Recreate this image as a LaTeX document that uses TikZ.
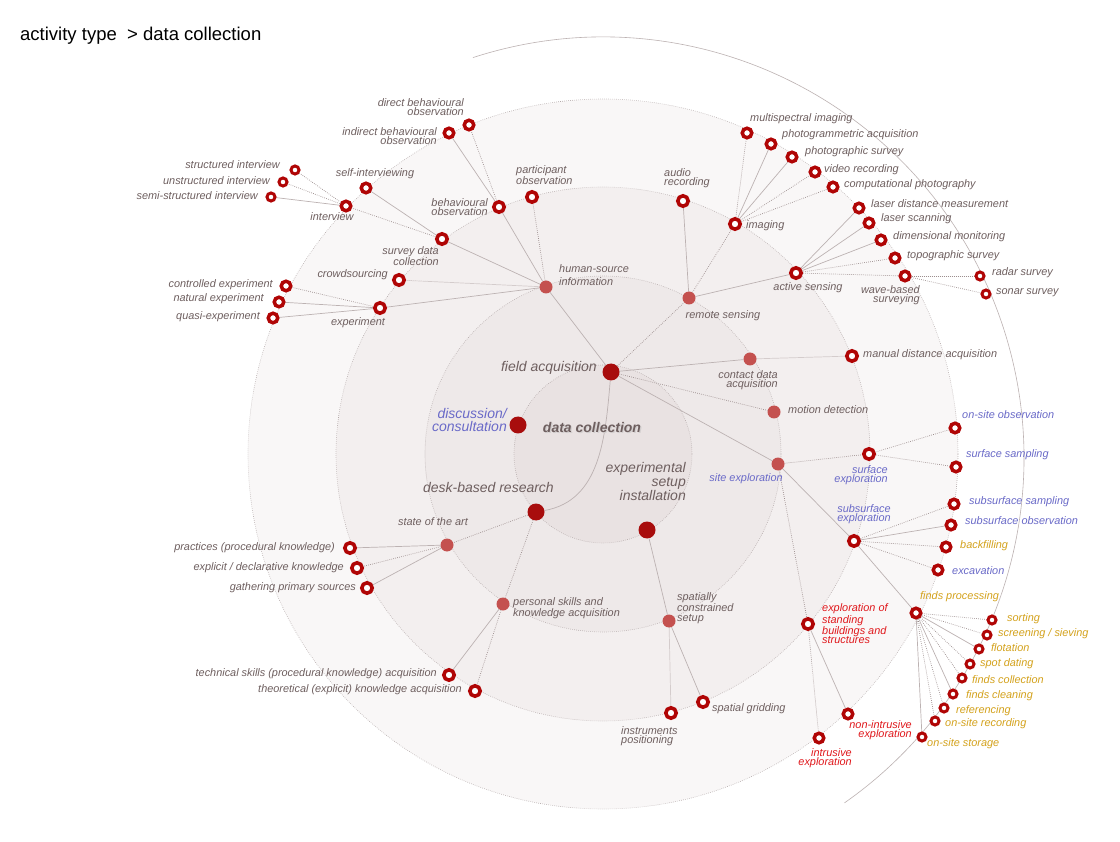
\documentclass[tikz,border=0pt]{standalone}
\usepackage{fontspec}
\setmainfont{Liberation Sans}
\usetikzlibrary{backgrounds}

\definecolor{txtgrey}{HTML}{6E5F5F}
\definecolor{txtblue}{HTML}{6A6AC8}
\definecolor{txtgold}{HTML}{D4A21C}
\definecolor{txtred}{HTML}{E0181C}
\definecolor{lvlone}{HTML}{A80D0D}
\definecolor{lvltwo}{HTML}{C4514F}
\definecolor{ringred}{HTML}{B00505}
\definecolor{linkgrey}{HTML}{BCB2B2}
\definecolor{dotgrey}{HTML}{9C8E8E}
\definecolor{ringgrey}{HTML}{B3A9A9}
\definecolor{diska}{HTML}{E9E2E2}
\definecolor{diskb}{HTML}{EEE9E9}
\definecolor{diskc}{HTML}{F3EFEF}
\definecolor{diskd}{HTML}{F9F7F7}

\tikzset{
  topnode/.style={circle, fill=lvlone, minimum size=17pt, inner sep=0},
  midnode/.style={circle, fill=lvltwo, minimum size=13pt, inner sep=0},
  ringnode/.style={circle, draw=ringred, fill=white, line width=3.6pt, minimum size=10.4pt, inner sep=0},
  leafnode/.style={ringnode, line width=3.5pt, minimum size=9.5pt},
  tipnode/.style={ringnode, line width=3pt, minimum size=8pt},
  lbl/.style={font=\fontsize{10.9}{9.6}\selectfont\itshape, text=txtgrey, inner sep=0},
  biglbl/.style={font=\fontsize{14}{14}\selectfont\itshape, text=txtgrey, inner sep=0},
  solidlink/.style={draw=linkgrey, line width=0.7pt},
  dotlink/.style={draw=dotgrey, line width=0.7pt, dash pattern=on 0.7pt off 1.3pt},
  ringline/.style={draw=ringgrey, line width=0.6pt, dash pattern=on 0.6pt off 1.4pt},
}

\begin{document}
\begin{tikzpicture}[x=1pt,y=-1pt]
\useasboundingbox (0,0) rectangle (1120,842);

% rings
\coordinate (C) at (603,454);
\coordinate (Ct) at (603,458);
\begin{scope}[on background layer]
\fill[white] (0,0) rectangle (1120,842);
\fill[diskd] (C) circle[radius=355pt];
\fill[diskc] (C) circle[radius=267pt];
\fill[diskb] (C) circle[radius=178pt];
\fill[diska] (C) circle[radius=89pt];
\draw[ringline] (C) circle[radius=355pt];
\draw[ringline] (C) circle[radius=267pt];
\draw[ringline] (C) circle[radius=178pt];
\draw[ringline] (C) circle[radius=89pt];
\draw[linkgrey, line width=0.6pt] (Ct) ++(108:421pt) arc[start angle=108, end angle=-55, radius=421pt];
\end{scope}

\node[anchor=base west, font=\fontsize{18.5}{20}\selectfont, inner sep=0] (title) at (20,41) {activity type \ > data collection};

% level 1
\node[topnode] (fieldacq) at (611,372) {};
\node[topnode] (discussion) at (518,425) {};
\node[topnode] (deskbased) at (536,512) {};
\node[topnode] (expsetup) at (647,530) {};

% level 2
\node[midnode] (humansource) at (546,287) {};
\node[midnode] (remotesensing) at (689,298) {};
\node[midnode] (contactdata) at (750,359) {};
\node[midnode] (motiondet) at (774,412) {};
\node[midnode] (siteexpl) at (778,464) {};
\node[midnode] (stateart) at (447,545) {};
\node[midnode] (personal) at (503,604) {};
\node[midnode] (spatially) at (669,621) {};

% level 3
\node[ringnode] (survey) at (442,239) {};
\node[ringnode] (behavioural) at (499,207) {};
\node[ringnode] (participant) at (532,197) {};
\node[ringnode] (crowd) at (399,280) {};
\node[ringnode] (experiment) at (380,308) {};
\node[ringnode] (audio) at (683,201) {};
\node[ringnode] (imaging) at (735,224) {};
\node[ringnode] (activesens) at (796,273) {};
\node[ringnode] (manualdist) at (852,356) {};
\node[ringnode] (surfexpl) at (869,454) {};
\node[ringnode] (subsurfexpl) at (854,541) {};
\node[ringnode] (standing) at (808,624) {};
\node[ringnode] (practices) at (350,548) {};
\node[ringnode] (explicit) at (357,568) {};
\node[ringnode] (gathering) at (367,588) {};
\node[ringnode] (technical) at (449,675) {};
\node[ringnode] (theoretical) at (475,691) {};
\node[ringnode] (instruments) at (671,713) {};
\node[ringnode] (gridding) at (703,702) {};

% level 4
\node[leafnode] (interview) at (346,206) {};
\node[leafnode] (selfint) at (366,188) {};
\node[leafnode] (indirect) at (449,133) {};
\node[leafnode] (direct) at (469,125) {};
\node[leafnode] (controlled) at (286,286) {};
\node[leafnode] (natural) at (279,302) {};
\node[leafnode] (quasi) at (273,318) {};
\node[leafnode] (multispec) at (747,133) {};
\node[leafnode] (photogram) at (771,144) {};
\node[leafnode] (photosurvey) at (792,157) {};
\node[leafnode] (video) at (815,172) {};
\node[leafnode] (computational) at (833,187) {};
\node[leafnode] (laserdist) at (859,208) {};
\node[leafnode] (laserscan) at (869,223) {};
\node[leafnode] (dimensional) at (881,240) {};
\node[leafnode] (topographic) at (895,258) {};
\node[leafnode] (wavebased) at (905,276) {};
\node[leafnode] (onsiteobs) at (955,428) {};
\node[leafnode] (surfsampling) at (956,467) {};
\node[leafnode] (subsampling) at (954,504) {};
\node[leafnode] (subobs) at (951,525) {};
\node[leafnode] (backfilling) at (946,547) {};
\node[leafnode] (excavation) at (938,570) {};
\node[leafnode] (findsproc) at (916,613) {};
\node[leafnode] (nonintrusive) at (848,714) {};
\node[leafnode] (intrusive) at (819,738) {};

% level 5
\node[tipnode] (structured) at (295,170) {};
\node[tipnode] (unstructured) at (283,182) {};
\node[tipnode] (semistructured) at (271,197) {};
\node[tipnode] (radar) at (980,276) {};
\node[tipnode] (sonar) at (986,294) {};
\node[tipnode] (sorting) at (992,620) {};
\node[tipnode] (screening) at (987,635) {};
\node[tipnode] (flotation) at (979,649) {};
\node[tipnode] (spotdating) at (970,664) {};
\node[tipnode] (findscoll) at (962,678) {};
\node[tipnode] (findsclean) at (953,694) {};
\node[tipnode] (referencing) at (944,708) {};
\node[tipnode] (onsiterec) at (935,721) {};
\node[tipnode] (onsitestore) at (922,737) {};

% links
\begin{scope}[on background layer]
\draw[solidlink] (fieldacq) to[out=-95, in=10] (deskbased);
\draw[solidlink] (fieldacq)--(humansource);
\draw[dotlink] (fieldacq)--(remotesensing);
\draw[solidlink] (fieldacq)--(contactdata);
\draw[dotlink] (fieldacq)--(motiondet);
\draw[solidlink] (fieldacq)--(siteexpl);
\draw[dotlink] (deskbased)--(stateart);
\draw[dotlink] (deskbased)--(personal);
\draw[solidlink] (expsetup)--(spatially);

\draw[solidlink] (humansource)--(survey);
\draw[solidlink] (humansource)--(behavioural);
\draw[dotlink] (humansource)--(participant);
\draw[dotlink] (humansource)--(crowd);
\draw[solidlink] (humansource)--(experiment);
\draw[dotlink] (survey)--(interview);
\draw[solidlink] (survey)--(selfint);
\draw[dotlink] (interview)--(structured);
\draw[dotlink] (interview)--(unstructured);
\draw[solidlink] (interview)--(semistructured);
\draw[solidlink] (behavioural)--(indirect);
\draw[dotlink] (behavioural)--(direct);
\draw[dotlink] (experiment)--(controlled);
\draw[solidlink] (experiment)--(natural);
\draw[solidlink] (experiment)--(quasi);

\draw[solidlink] (remotesensing)--(audio);
\draw[dotlink] (remotesensing)--(imaging);
\draw[solidlink] (remotesensing)--(activesens);
\draw[dotlink] (imaging)--(multispec);
\draw[solidlink] (imaging)--(photogram);
\draw[solidlink] (imaging)--(photosurvey);
\draw[dotlink] (imaging)--(video);
\draw[dotlink] (imaging)--(computational);
\draw[solidlink] (activesens)--(laserdist);
\draw[solidlink] (activesens)--(laserscan);
\draw[solidlink] (activesens)--(dimensional);
\draw[dotlink] (activesens)--(topographic);
\draw[dotlink] (activesens)--(wavebased);
\draw[dotlink] (wavebased)--(radar);
\draw[dotlink] (wavebased)--(sonar);
\draw[dotlink] (contactdata)--(manualdist);

\draw[dotlink] (siteexpl)--(surfexpl);
\draw[solidlink] (siteexpl)--(subsurfexpl);
\draw[dotlink] (siteexpl)--(standing);
\draw[dotlink] (surfexpl)--(onsiteobs);
\draw[dotlink] (surfexpl)--(surfsampling);
\draw[dotlink] (subsurfexpl)--(subsampling);
\draw[solidlink] (subsurfexpl)--(subobs);
\draw[dotlink] (subsurfexpl)--(backfilling);
\draw[dotlink] (subsurfexpl)--(excavation);
\draw[solidlink] (subsurfexpl)--(findsproc);
\draw[dotlink] (findsproc)--(sorting);
\draw[dotlink] (findsproc)--(screening);
\draw[solidlink] (findsproc)--(flotation);
\draw[dotlink] (findsproc)--(spotdating);
\draw[dotlink] (findsproc)--(findscoll);
\draw[solidlink] (findsproc)--(findsclean);
\draw[dotlink] (findsproc)--(referencing);
\draw[dotlink] (findsproc)--(onsiterec);
\draw[solidlink] (findsproc)--(onsitestore);
\draw[dotlink] (standing)--(intrusive);
\draw[solidlink] (standing)--(nonintrusive);

\draw[solidlink] (stateart)--(practices);
\draw[dotlink] (stateart)--(explicit);
\draw[solidlink] (stateart)--(gathering);
\draw[solidlink] (personal)--(technical);
\draw[dotlink] (personal)--(theoretical);
\draw[dotlink] (spatially)--(instruments);
\draw[solidlink] (spatially)--(gridding);
\end{scope}

% labels, level 1
\node[biglbl, anchor=east] (t-fieldacq) at (597,368) {field acquisition};
\node[biglbl, text=txtblue, anchor=east, align=right, font=\fontsize{14}{13}\selectfont\itshape] (t-discussion) at (507,420) {discussion/\\consultation};
\node[biglbl, anchor=east] (t-deskbased) at (554,487) {desk-based research};
\node[biglbl, anchor=east, align=right] (t-expsetup) at (686,481) {experimental\\setup\\installation};
\node[biglbl, text=white!70!txtgrey, font=\fontsize{14}{14}\selectfont\bfseries\itshape] (t-shadow) at (593.2,428.2) {data collection};
\node[biglbl, font=\fontsize{14}{14}\selectfont\bfseries\itshape] (t-datacoll) at (592,427) {data collection};

% labels, level 2
\node[lbl, anchor=west, align=left] (t-humansource) at (559,275) {human-source\\[3.4pt]information};
\node[lbl] (t-remotesensing) at (723,316) {remote sensing};
\node[lbl, anchor=east, align=right] (t-contactdata) at (778,380) {contact data\\acquisition};
\node[lbl, anchor=west] (t-motiondet) at (788,410) {motion detection};
\node[lbl, text=txtblue, anchor=east] (t-siteexpl) at (783,479) {site exploration};
\node[lbl] (t-stateart) at (433,522) {state of the art};
\node[lbl, anchor=west, align=left] (t-personal) at (513,608) {personal skills and\\knowledge acquisition};
\node[lbl, anchor=west, align=left] (t-spatially) at (677,608) {spatially\\constrained\\setup};

% labels, level 3
\node[lbl, anchor=east, align=right] (t-survey) at (439,256) {survey data\\collection};
\node[lbl, anchor=east, align=right] (t-behavioural) at (488,207) {behavioural\\observation};
\node[lbl, anchor=west, align=left] (t-participant) at (516,175) {participant\\observation};
\node[lbl, anchor=east] (t-crowd) at (388,275) {crowdsourcing};
\node[lbl] (t-experiment) at (358,323) {experiment};
\node[lbl, anchor=west, align=left] (t-audio) at (664,178) {audio\\recording};
\node[lbl, anchor=west] (t-imaging) at (746,226) {imaging};
\node[lbl] (t-activesens) at (808,288) {active sensing};
\node[lbl, anchor=west] (t-manualdist) at (863,355) {manual distance acquisition};
\node[lbl, text=txtblue, anchor=east, align=right] (t-surfexpl) at (888,475) {surface\\exploration};
\node[lbl, text=txtblue, align=center] (t-subsurfexpl) at (864,514) {subsurface\\exploration};
\node[lbl, text=txtred, anchor=west, align=left] (t-standing) at (822,624) {exploration of\\standing\\buildings and\\structures};
\node[lbl, anchor=east] (t-practices) at (335,548) {practices (procedural knowledge)};
\node[lbl, anchor=east] (t-explicit) at (344,568) {explicit / declarative knowledge};
\node[lbl, anchor=east] (t-gathering) at (356,588) {gathering primary sources};
\node[lbl, anchor=east] (t-technical) at (437,674) {technical skills (procedural knowledge) acquisition};
\node[lbl, anchor=east] (t-theoretical) at (462,690) {theoretical (explicit) knowledge acquisition};
\node[lbl, anchor=west, align=left] (t-instruments) at (621,736) {instruments\\positioning};
\node[lbl, anchor=west] (t-gridding) at (712,709) {spatial gridding};

% labels, level 4
\node[lbl] (t-interview) at (332,217) {interview};
\node[lbl] (t-selfint) at (375,174) {self-interviewing};
\node[lbl, anchor=east, align=right] (t-indirect) at (437,136) {indirect behavioural\\observation};
\node[lbl, anchor=east, align=right] (t-direct) at (464,107) {direct behavioural\\observation};
\node[lbl, anchor=east] (t-controlled) at (273,285) {controlled experiment};
\node[lbl, anchor=east] (t-natural) at (264,299) {natural experiment};
\node[lbl, anchor=east] (t-quasi) at (260,317) {quasi-experiment};
\node[lbl, anchor=west] (t-multispec) at (750,119) {multispectral imaging};
\node[lbl, anchor=west] (t-photogram) at (782,135) {photogrammetric acquisition};
\node[lbl, anchor=west] (t-photosurvey) at (805,152) {photographic survey};
\node[lbl, anchor=west] (t-video) at (824,170) {video recording};
\node[lbl, anchor=west] (t-computational) at (844,185) {computational photography};
\node[lbl, anchor=west] (t-laserdist) at (871,204) {laser distance measurement};
\node[lbl, anchor=west] (t-laserscan) at (881,219) {laser scanning};
\node[lbl, anchor=west] (t-dimensional) at (893,237) {dimensional monitoring};
\node[lbl, anchor=west] (t-topographic) at (907,256) {topographic survey};
\node[lbl, anchor=east, align=right] (t-wavebased) at (920,295) {wave-based\\surveying};
\node[lbl, text=txtblue, anchor=west] (t-onsiteobs) at (962,415) {on-site observation};
\node[lbl, text=txtblue, anchor=west] (t-surfsampling) at (966,455) {surface sampling};
\node[lbl, text=txtblue, anchor=west] (t-subsampling) at (969,502) {subsurface sampling};
\node[lbl, text=txtblue, anchor=west] (t-subobs) at (965,521) {subsurface observation};
\node[lbl, text=txtgold, anchor=west] (t-backfilling) at (960,546) {backfilling};
\node[lbl, text=txtblue, anchor=west] (t-excavation) at (952,571) {excavation};
\node[lbl, text=txtgold, anchor=west] (t-findsproc) at (920,597) {finds processing};
\node[lbl, text=txtred, anchor=east, align=right] (t-nonintrusive) at (912,730) {non-intrusive\\exploration};
\node[lbl, text=txtred, anchor=east, align=right] (t-intrusive) at (852,758) {intrusive\\exploration};

% labels, level 5
\node[lbl, anchor=east] (t-structured) at (280,165) {structured interview};
\node[lbl, anchor=east] (t-unstructured) at (270,181) {unstructured interview};
\node[lbl, anchor=east] (t-semistructured) at (258,196) {semi-structured interview};
\node[lbl, anchor=west] (t-radar) at (992,273) {radar survey};
\node[lbl, anchor=west] (t-sonar) at (996,293) {sonar survey};
\node[lbl, text=txtgold, anchor=west] (t-sorting) at (1007,619) {sorting};
\node[lbl, text=txtgold, anchor=west] (t-screening) at (998,634) {screening / sieving};
\node[lbl, text=txtgold, anchor=west] (t-flotation) at (991,648) {flotation};
\node[lbl, text=txtgold, anchor=west] (t-spotdating) at (980,664) {spot dating};
\node[lbl, text=txtgold, anchor=west] (t-findscoll) at (972,680) {finds collection};
\node[lbl, text=txtgold, anchor=west] (t-findsclean) at (966,696) {finds cleaning};
\node[lbl, text=txtgold, anchor=west] (t-referencing) at (956,711) {referencing};
\node[lbl, text=txtgold, anchor=west] (t-onsiterec) at (945,724) {on-site recording};
\node[lbl, text=txtgold, anchor=west] (t-onsitestore) at (927,744) {on-site storage};

\end{tikzpicture}
\end{document}
